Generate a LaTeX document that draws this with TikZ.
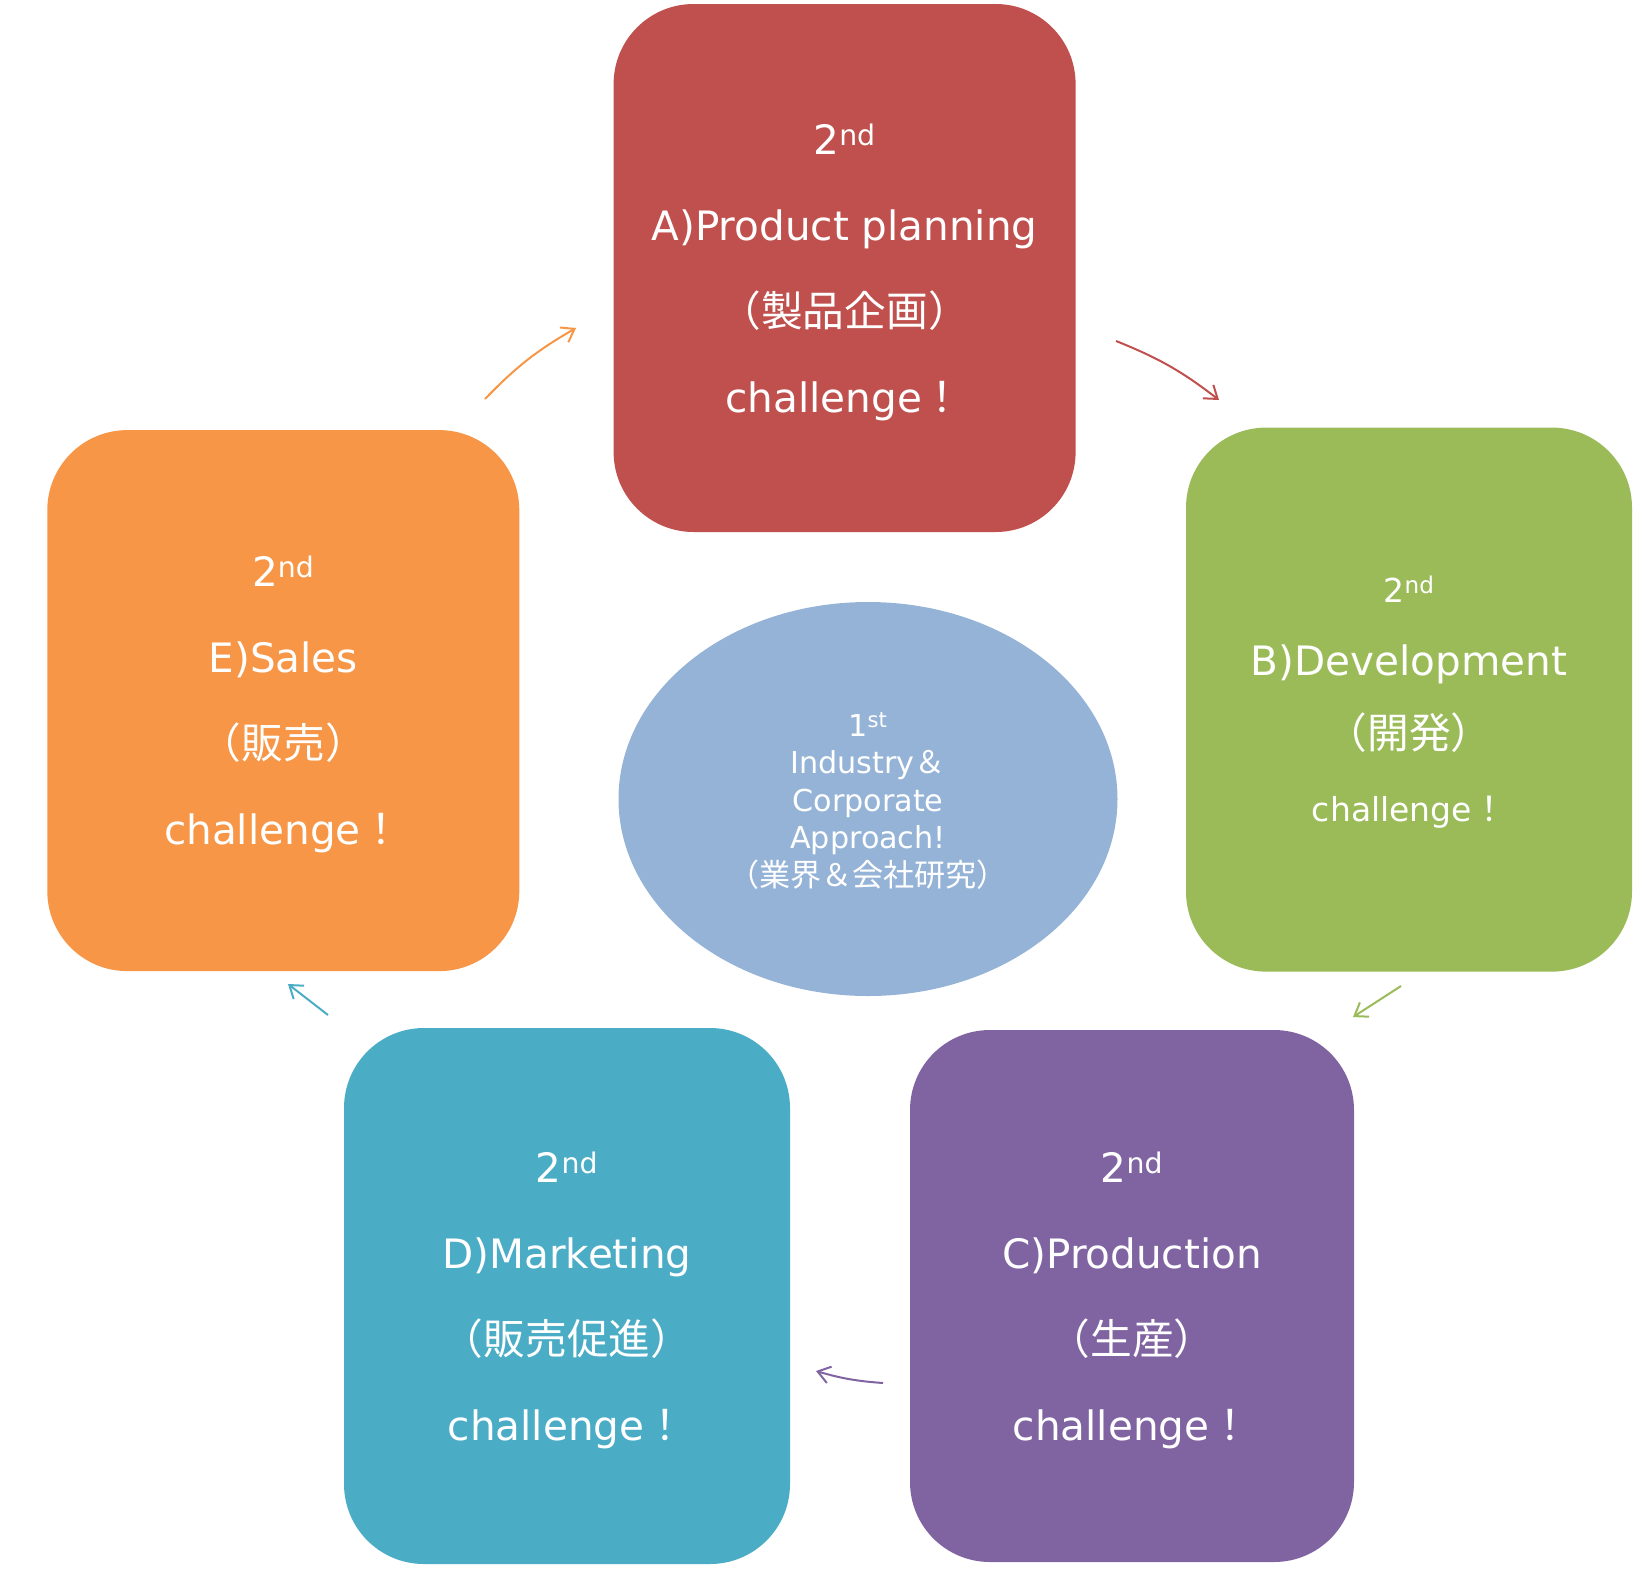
\documentclass[tikz,border=0pt]{standalone}
\usepackage{fontspec}
\setmainfont{DejaVu Sans}
\newfontfamily\cjk[Scale=1.03]{Noto Sans CJK JP}
\usetikzlibrary{arrows.meta,shapes.geometric}
\definecolor{cA}{HTML}{C0504D}
\definecolor{cB}{HTML}{9BBB59}
\definecolor{cC}{HTML}{8064A2}
\definecolor{cD}{HTML}{4BACC6}
\definecolor{cE}{HTML}{F79646}
\definecolor{cO}{HTML}{95B3D7}
\tikzset{
  box/.style={rectangle, rounded corners=80pt, inner sep=0pt},
  txt/.style={inner sep=0pt, text=white, align=center},
  bigtext/.style={font=\fontsize{40.5}{86}\selectfont},
  arr/.style={line width=2pt, -{Straight Barb[length=12pt,width=17pt,line width=2pt]}}
}
\newcommand{\midline}[1]{{\fontsize{40.5}{73}\selectfont #1}}
\begin{document}
\begin{tikzpicture}[x=1pt,y=-1pt]
\useasboundingbox (0,0) rectangle (1636,1569);
\node[box, fill=cA, minimum width=462pt, minimum height=528pt] (A) at (844.6,268) {};
\node[box, fill=cB, minimum width=446pt, minimum height=544pt] (B) at (1409,699.6) {};
\node[box, fill=cC, minimum width=444pt, minimum height=532pt] (C) at (1132,1296) {};
\node[box, fill=cD, minimum width=446pt, minimum height=536pt] (D) at (567,1296) {};
\node[box, fill=cE, minimum width=472pt, minimum height=541pt] (E) at (283.3,700.6) {};
\node[ellipse, fill=cO, inner sep=0pt, minimum width=499pt, minimum height=394pt] (O) at (868,799) {};
\node[txt, bigtext] (At) at ([yshift=-4pt]A.center)
  {2\textsuperscript{nd}\\A)Product planning\\{\cjk （製品企画）}\\challenge{\cjk ！}};
\node[txt, font=\fontsize{33}{73}\selectfont] (Bt) at ([yshift=-3pt]B.center)
  {2\textsuperscript{nd}\\\midline{B)Development}\\\midline{\cjk （開発）}\\challenge{\cjk ！}};
\node[txt, bigtext] (Ct) at ([yshift=-4pt]C.center)
  {2\textsuperscript{nd}\\C)Production\\{\cjk （生産）}\\challenge{\cjk ！}};
\node[txt, bigtext] (Dt) at ([yshift=-4pt]D.center)
  {2\textsuperscript{nd}\\D)Marketing\\{\cjk （販売促進）}\\challenge{\cjk ！}};
\node[txt, bigtext] (Et) at ([yshift=-4pt]E.center)
  {2\textsuperscript{nd}\\E)Sales\\{\cjk （販売）}\\challenge{\cjk ！}};
\node[txt, font=\fontsize{30.2}{37.5}\selectfont] (Ot) at ([yshift=-2pt]O.center)
  {1\textsuperscript{st}\\Industry{\cjk ＆}\\Corporate\\Approach!\\{\cjk （業界＆会社研究）}};
\coordinate (ab1) at (1116,341); \coordinate (ab2) at (1219,400);
\coordinate (bc1) at (1401,986); \coordinate (bc2) at (1353,1017);
\coordinate (cd1) at (883,1383); \coordinate (cd2) at (816,1371);
\coordinate (de1) at (328,1015); \coordinate (de2) at (288,984);
\coordinate (ea1) at (485,399); \coordinate (ea2) at (576,328);
\draw[arr, cA] (ab1) to[bend left=8] (ab2);
\draw[arr, cB] (bc1) -- (bc2);
\draw[arr, cC] (cd1) to[bend left=6] (cd2);
\draw[arr, cD] (de1) -- (de2);
\draw[arr, cE] (ea1) to[bend left=8] (ea2);
\end{tikzpicture}
\end{document}
